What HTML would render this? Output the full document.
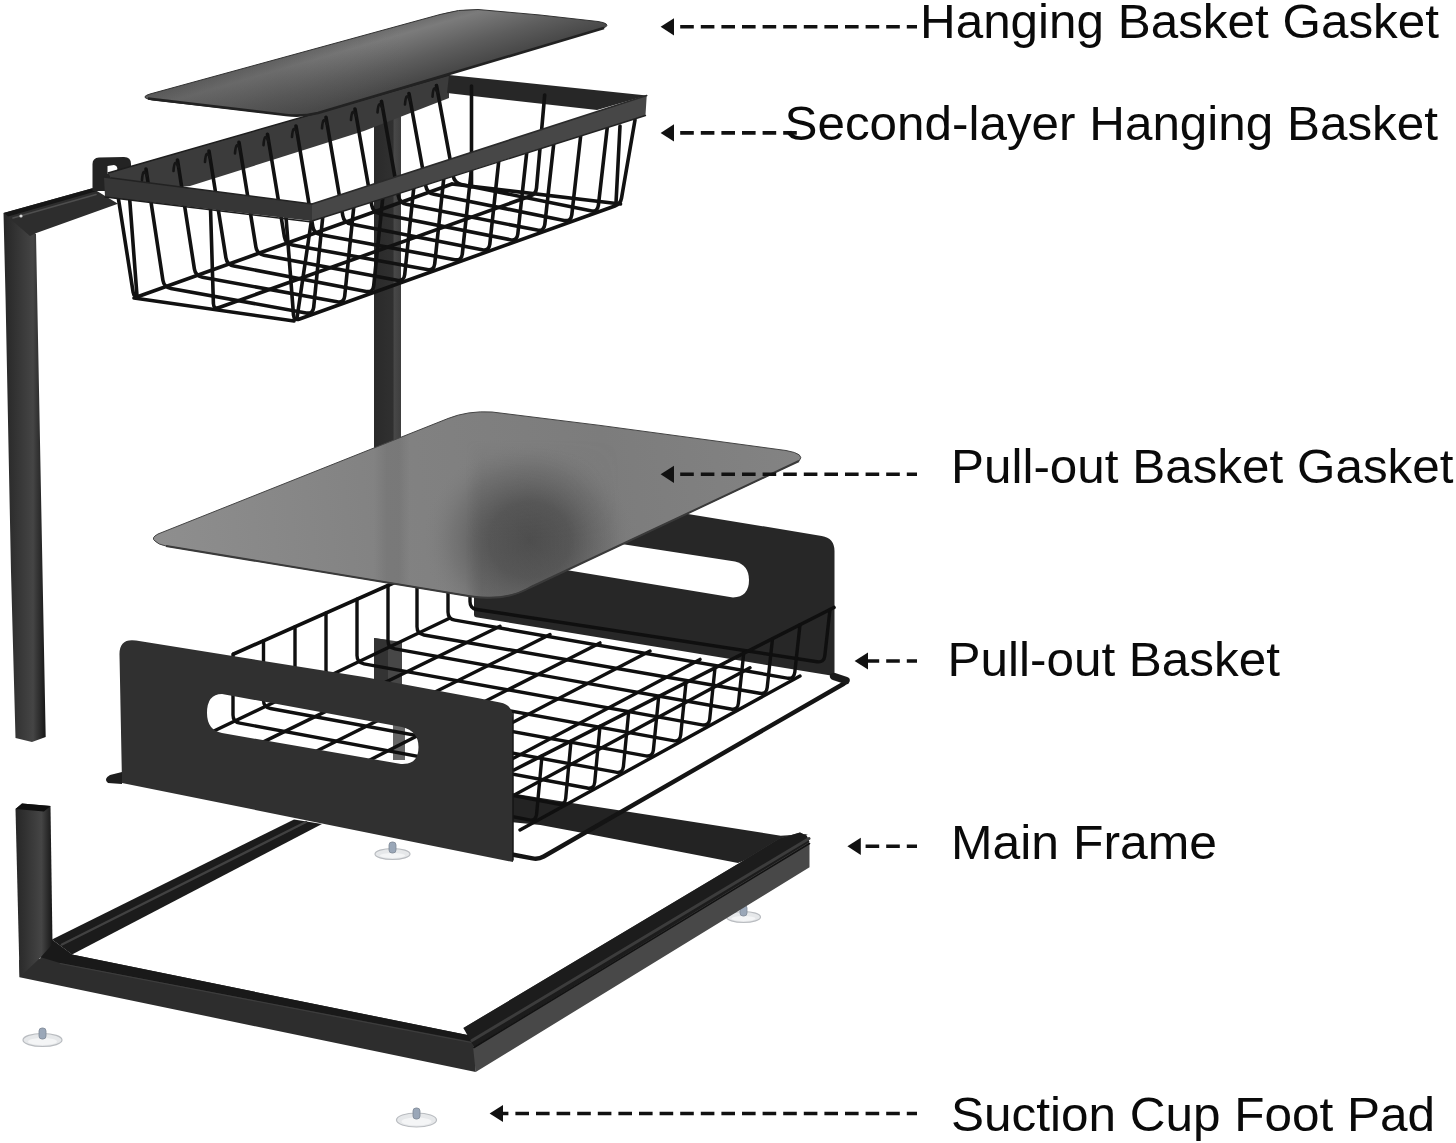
<!DOCTYPE html>
<html lang="en"><head><meta charset="utf-8"><title>Under sink organizer parts</title>
<style>
html,body{margin:0;padding:0;background:#fff;}
body{width:1456px;height:1143px;overflow:hidden;position:relative;font-family:"Liberation Sans",Arial,sans-serif;}
svg{position:absolute;left:0;top:0;display:block;}
.lbl{font-family:"Liberation Sans",Arial,sans-serif;font-size:49px;fill:#0a0a0a;}
</style></head><body>
<svg width="1456" height="1143" viewBox="0 0 1456 1143">
<defs>
<linearGradient id="gTop" gradientUnits="userSpaceOnUse" x1="392" y1="24" x2="414" y2="100">
  <stop offset="0" stop-color="#686868"/><stop offset="0.16" stop-color="#7b7b7b"/><stop offset="0.5" stop-color="#5d5d5d"/><stop offset="0.82" stop-color="#454545"/><stop offset="1" stop-color="#363636"/>
</linearGradient>
<linearGradient id="gTopL" gradientUnits="userSpaceOnUse" x1="145" y1="97" x2="400" y2="30">
  <stop offset="0" stop-color="#444" stop-opacity="0.45"/><stop offset="0.5" stop-color="#484848" stop-opacity="0.3"/><stop offset="1" stop-color="#555" stop-opacity="0"/>
</linearGradient>
<linearGradient id="gLow" gradientUnits="userSpaceOnUse" x1="160" y1="540" x2="800" y2="460">
  <stop offset="0" stop-color="#8e8e8e"/><stop offset="0.35" stop-color="#828282"/><stop offset="0.7" stop-color="#7c7c7c"/><stop offset="1" stop-color="#838383"/>
</linearGradient>
<radialGradient id="gBlot" gradientUnits="userSpaceOnUse" cx="530" cy="540" r="108" gradientTransform="translate(530 540) scale(1 0.92) translate(-530 -540)">
  <stop offset="0" stop-color="#484848" stop-opacity="0.95"/><stop offset="0.38" stop-color="#4e4e4e" stop-opacity="0.8"/><stop offset="0.72" stop-color="#606060" stop-opacity="0.36"/><stop offset="1" stop-color="#808080" stop-opacity="0"/>
</radialGradient>
<linearGradient id="gBand" gradientUnits="userSpaceOnUse" x1="374" y1="0" x2="410" y2="0">
  <stop offset="0" stop-color="#555" stop-opacity="0"/><stop offset="0.35" stop-color="#555" stop-opacity="0.2"/><stop offset="0.7" stop-color="#555" stop-opacity="0.2"/><stop offset="1" stop-color="#555" stop-opacity="0"/>
</linearGradient>
<linearGradient id="gFold" gradientUnits="userSpaceOnUse" x1="466" y1="0" x2="620" y2="0">
  <stop offset="0" stop-color="#555" stop-opacity="0"/><stop offset="0.1" stop-color="#555" stop-opacity="0.4"/><stop offset="0.5" stop-color="#555" stop-opacity="0.3"/><stop offset="1" stop-color="#555" stop-opacity="0"/>
</linearGradient>
<linearGradient id="gFoldM" gradientUnits="userSpaceOnUse" x1="0" y1="440" x2="0" y2="540">
  <stop offset="0" stop-color="#000"/><stop offset="1" stop-color="#fff"/>
</linearGradient>
<mask id="mFold" maskUnits="userSpaceOnUse" x="400" y="400" width="300" height="220"><rect x="400" y="400" width="300" height="220" fill="url(#gFoldM)"/></mask>
<linearGradient id="gPole" x1="0" y1="0" x2="1" y2="0">
  <stop offset="0" stop-color="#262626"/><stop offset="0.45" stop-color="#3a3a3a"/><stop offset="0.7" stop-color="#454545"/><stop offset="0.9" stop-color="#262626"/><stop offset="1" stop-color="#161616"/>
</linearGradient>
<linearGradient id="gPole2" x1="0" y1="0" x2="1" y2="0">
  <stop offset="0" stop-color="#2a2a2a"/><stop offset="0.7" stop-color="#303030"/><stop offset="0.75" stop-color="#484848"/><stop offset="1" stop-color="#3e3e3e"/>
</linearGradient>
<clipPath id="cLow"><path d="M155 541 Q150.5 538 158 534 L448 418.5 Q468 410.5 492 412 L600 425.4 L786 450.5 Q806 454 799 461 L530 587.5 Q505 602 470 596.2 L166 546 Q158 544.5 155 541 Z"/></clipPath>
</defs>
<path d="M374.0 90.0 L401.0 90.0 L401.0 455.0 L374.0 455.0 Z" fill="url(#gPole2)" />
<path d="M3.5 213.0 L36.0 234.0 L42.5 572.0 L45.7 737.0 L32.0 742.0 L15.5 738.0 L11.0 572.0 L5.6 300.0 Z" fill="url(#gPole)" />
<path d="M3.5 213.0 L92.4 188.3 L118.0 203.7 L35.0 233.5 L30.0 236.0 Z" fill="#2d2d2d" />
<path d="M3.5 213.0 L92.4 188.3 L97.0 191.0 L8.0 216.5 Z" fill="#161616" />
<path d="M13.0 218.0 L96.0 194.5" stroke="#4e4e4e" stroke-width="1.60" fill="none" stroke-linecap="round" />
<circle cx="21" cy="216" r="1.6" fill="#d8d8d8"/>
<path d="M92.5 191 L92.5 164 Q92.5 158 99 157.5 L124 157 Q131 157 131 164 L131 172 L106.5 178 L106.5 191 Z M107.5 166 L107.5 174 L117 171 Q118.5 166 114 165 Z" fill="#232323" fill-rule="evenodd"/>
<path d="M108.0 173.0 L449.0 75.0 L449.0 98.0 L364.0 131.0 L190.0 186.0 L120.0 193.0 Z" fill="#3b3b3b" />
<path d="M449.0 75.0 L646.7 95.5 L597.0 110.0 L447.0 93.0 Z" fill="#272727" />
<path d="M108.0 173.0 L449.0 75.0" stroke="#1d1d1d" stroke-width="1.40" fill="none" stroke-linecap="round" />
<g><path d="M146.0 169.1 L162.9 280.3 Q164.0 287.2 170.9 288.5 L306.1 312.9 Q313.0 314.2 313.7 307.2 L323.0 214.5" stroke="#111" stroke-width="3.60" fill="none" stroke-linecap="round" stroke-linejoin="round" /><path d="M177.5 160.0 L194.4 269.0 Q195.5 276.0 202.4 277.2 L337.1 301.8 Q344.0 303.1 344.7 296.1 L354.0 204.7" stroke="#111" stroke-width="3.60" fill="none" stroke-linecap="round" stroke-linejoin="round" /><path d="M209.0 151.0 L225.9 257.7 Q227.0 264.7 233.9 266.0 L366.1 291.4 Q373.0 292.7 373.7 285.7 L383.0 195.5" stroke="#111" stroke-width="3.60" fill="none" stroke-linecap="round" stroke-linejoin="round" /><path d="M239.0 142.4 L255.9 247.0 Q257.0 253.9 263.9 255.2 L397.1 280.3 Q404.0 281.6 404.7 274.6 L414.0 185.7" stroke="#111" stroke-width="3.60" fill="none" stroke-linecap="round" stroke-linejoin="round" /><path d="M267.5 134.2 L284.4 236.8 Q285.5 243.7 292.4 244.9 L427.1 269.6 Q434.0 270.8 434.7 263.9 L444.0 176.2" stroke="#111" stroke-width="3.60" fill="none" stroke-linecap="round" stroke-linejoin="round" /><path d="M296.0 126.0 L312.8 226.6 Q314.0 233.5 320.9 234.8 L454.7 259.7 Q461.6 260.9 462.3 254.0 L471.6 167.5" stroke="#111" stroke-width="3.60" fill="none" stroke-linecap="round" stroke-linejoin="round" /><path d="M326.0 117.3 L342.8 215.8 Q344.0 222.7 350.9 224.1 L482.1 249.8 Q489.0 251.1 489.8 244.2 L499.0 158.8" stroke="#111" stroke-width="3.60" fill="none" stroke-linecap="round" stroke-linejoin="round" /><path d="M355.0 109.0 L371.8 205.4 Q373.0 212.3 379.9 213.7 L510.1 239.7 Q517.0 241.1 517.8 234.1 L527.0 150.0" stroke="#111" stroke-width="3.60" fill="none" stroke-linecap="round" stroke-linejoin="round" /><path d="M381.5 101.4 L398.3 195.9 Q399.5 202.8 406.4 204.2 L537.1 230.1 Q544.0 231.4 544.8 224.5 L554.0 141.4" stroke="#111" stroke-width="3.60" fill="none" stroke-linecap="round" stroke-linejoin="round" /><path d="M409.0 93.5 L425.8 186.1 Q427.0 193.0 433.9 194.3 L564.1 220.4 Q571.0 221.7 571.8 214.8 L581.0 132.9" stroke="#111" stroke-width="3.60" fill="none" stroke-linecap="round" stroke-linejoin="round" /><path d="M436.5 85.6 L453.2 176.2 Q454.5 183.1 461.4 184.5 L590.7 210.8 Q597.6 212.2 598.4 205.3 L607.6 124.5" stroke="#111" stroke-width="3.60" fill="none" stroke-linecap="round" stroke-linejoin="round" /><path d="M118.0 196.0 L133.1 292.1 Q134.0 298.0 139.6 296.0 L452.0 184.0" stroke="#111" stroke-width="3.60" fill="none" stroke-linecap="round" stroke-linejoin="round" /><path d="M471.5 86.0 L471.5 187.0" stroke="#111" stroke-width="3.60" fill="none" stroke-linecap="round" stroke-linejoin="round" /><path d="M210.5 208.0 L213.4 303.5 Q213.6 309.5 219.2 307.5 L530.4 196.0 Q536.0 194.0 536.5 188.0 L544.7 95.0" stroke="#111" stroke-width="3.60" fill="none" stroke-linecap="round" stroke-linejoin="round" /><path d="M286.0 217.0 L293.5 315.0 Q294.0 321.0 299.6 319.0 L614.9 206.0 Q620.5 204.0 621.5 198.1 L635.0 120.0" stroke="#111" stroke-width="3.60" fill="none" stroke-linecap="round" stroke-linejoin="round" /><path d="M129.0 190.0 L137.0 296.0" stroke="#111" stroke-width="3.60" fill="none" stroke-linecap="round" stroke-linejoin="round" /><path d="M311.5 220.0 L297.0 318.0" stroke="#111" stroke-width="3.60" fill="none" stroke-linecap="round" stroke-linejoin="round" /><path d="M620.0 126.0 L616.0 203.0" stroke="#111" stroke-width="3.60" fill="none" stroke-linecap="round" stroke-linejoin="round" /><path d="M134.0 298.0 L294.0 321.0" stroke="#111" stroke-width="3.60" fill="none" stroke-linecap="round" stroke-linejoin="round" /><path d="M452.0 184.0 L620.5 204.0" stroke="#111" stroke-width="3.60" fill="none" stroke-linecap="round" stroke-linejoin="round" /></g>
<path d="M104.0 177.0 L312.0 204.0 L312.0 221.0 L105.0 197.0 Z" fill="#363636" />
<path d="M312.0 204.0 L646.7 95.5 L645.5 115.5 L312.0 221.0 Z" fill="#474747" />
<path d="M104.0 177.0 L312.0 204.0" stroke="#222" stroke-width="1.60" fill="none" stroke-linecap="round" />
<path d="M312.0 204.0 L646.7 95.5" stroke="#2a2a2a" stroke-width="1.60" fill="none" stroke-linecap="round" />
<path d="M105.0 197.0 L312.0 222.0" stroke="#1c1c1c" stroke-width="1.40" fill="none" stroke-linecap="round" />
<path d="M312.0 221.0 L645.5 115.5" stroke="#222" stroke-width="1.40" fill="none" stroke-linecap="round" />
<g><path d="M142.0 180.1 Q143.0 166.1 147.0 176.1" stroke="#151515" stroke-width="2.6" fill="none" stroke-linecap="round"/><path d="M173.5 171.0 Q174.5 157.0 178.5 167.0" stroke="#151515" stroke-width="2.6" fill="none" stroke-linecap="round"/><path d="M205.0 162.0 Q206.0 148.0 210.0 158.0" stroke="#151515" stroke-width="2.6" fill="none" stroke-linecap="round"/><path d="M235.0 153.4 Q236.0 139.4 240.0 149.4" stroke="#151515" stroke-width="2.6" fill="none" stroke-linecap="round"/><path d="M263.5 145.2 Q264.5 131.2 268.5 141.2" stroke="#151515" stroke-width="2.6" fill="none" stroke-linecap="round"/><path d="M292.0 137.0 Q293.0 123.0 297.0 133.0" stroke="#151515" stroke-width="2.6" fill="none" stroke-linecap="round"/><path d="M322.0 128.3 Q323.0 114.3 327.0 124.3" stroke="#151515" stroke-width="2.6" fill="none" stroke-linecap="round"/><path d="M351.0 120.0 Q352.0 106.0 356.0 116.0" stroke="#151515" stroke-width="2.6" fill="none" stroke-linecap="round"/><path d="M377.5 112.4 Q378.5 98.4 382.5 108.4" stroke="#151515" stroke-width="2.6" fill="none" stroke-linecap="round"/><path d="M405.0 104.5 Q406.0 90.5 410.0 100.5" stroke="#151515" stroke-width="2.6" fill="none" stroke-linecap="round"/><path d="M432.5 96.6 Q433.5 82.6 437.5 92.6" stroke="#151515" stroke-width="2.6" fill="none" stroke-linecap="round"/></g>
<path d="M146.5 98.5 Q142 96.5 150 94 L440 14.5 Q458 9 478 9.5 L540 15 L598 21.5 Q611 23.5 605 27.5 L318 113 Q302 117 286 115 L152 100 Z" fill="url(#gTop)"/>
<path d="M146.5 98.5 Q142 96.5 150 94 L440 14.5 Q458 9 478 9.5 L540 15 L598 21.5 Q611 23.5 605 27.5 L318 113 Q302 117 286 115 L152 100 Z" fill="url(#gTopL)" stroke="#333" stroke-width="1"/>
<path d="M148 98.5 L286 115 Q302 117 318 113 L604 28" fill="none" stroke="#222" stroke-width="2.6"/>
<g><ellipse cx="743.5" cy="917.0" rx="17.0" ry="5.5" fill="#e6e8ea" stroke="#b9bcc0" stroke-width="1.2"/><ellipse cx="743.5" cy="918.5" rx="12.0" ry="2.5" fill="#f4f5f6"/><rect x="740.0" y="905.0" width="7" height="11" rx="3" fill="#9aa7b8" stroke="#7d8896" stroke-width="0.8"/></g>
<g><ellipse cx="392.5" cy="854.0" rx="17.5" ry="5.5" fill="#e6e8ea" stroke="#b9bcc0" stroke-width="1.2"/><ellipse cx="392.5" cy="855.5" rx="12.5" ry="2.5" fill="#f4f5f6"/><rect x="389.0" y="842.0" width="7" height="11" rx="3" fill="#9aa7b8" stroke="#7d8896" stroke-width="0.8"/></g>
<g><ellipse cx="42.5" cy="1040.0" rx="19.5" ry="6.5" fill="#e6e8ea" stroke="#b9bcc0" stroke-width="1.2"/><ellipse cx="42.5" cy="1041.5" rx="14.5" ry="3.5" fill="#f4f5f6"/><rect x="39.0" y="1028.0" width="7" height="11" rx="3" fill="#9aa7b8" stroke="#7d8896" stroke-width="0.8"/></g>
<g><ellipse cx="416.5" cy="1120.0" rx="20.0" ry="7.0" fill="#e6e8ea" stroke="#b9bcc0" stroke-width="1.2"/><ellipse cx="416.5" cy="1121.5" rx="15.0" ry="4.0" fill="#f4f5f6"/><rect x="413.0" y="1108.0" width="7" height="11" rx="3" fill="#9aa7b8" stroke="#7d8896" stroke-width="0.8"/></g>
<path d="M510.0 793.0 L573.4 803.2 L626.8 811.5 L780.7 835.7 L808.0 834.0 L738.0 863.0 L585.8 833.4 L540.4 825.0 L510.0 822.0 Z" fill="#232323" />
<path d="M52.0 939.5 L294.0 819.5 L322.0 824.0 L72.0 954.5 Z" fill="#1b1b1b" />
<path d="M62.0 944.5 L306.0 822.0" stroke="#414141" stroke-width="2.40" fill="none" stroke-linecap="round" />
<path d="M40.0 957.0 L52.0 939.5 L72.0 954.6 L470.0 1035.6 L475.7 1042.0 L475.7 1072.0 L19.6 977.3 L19.0 960.0 Z" fill="#2d2d2d" />
<path d="M52.0 940.0 L72.0 954.6 L470.0 1035.6 L474.0 1042.0 L60.0 963.0 L40.0 957.0 Z" fill="#191919" />
<path d="M60.0 963.5 L474.0 1043.0" stroke="#3d3d3d" stroke-width="1.20" fill="none" stroke-linecap="round" />
<circle cx="39" cy="957.5" r="1.5" fill="#cfcfcf"/>
<circle cx="473.5" cy="1041" r="1.3" fill="#bdbdbd"/>
<path d="M463.4 1028.0 L739.5 863.0 L779.5 838.4 L800.0 832.5 L806.8 835.7 L809.5 844.0 L809.5 867.3 L475.7 1072.0 L472.0 1037.0 Z" fill="#484848" />
<path d="M463.4 1028.0 L739.5 863.0 L779.5 838.4 L800.0 832.5 L806.8 835.7 L809.5 842.0 L474.0 1047.0 Z" fill="#1c1c1c" />
<path d="M472.0 1040.5 L809.0 838.5" stroke="#3c3c3c" stroke-width="3.00" fill="none" stroke-linecap="round" />
<path d="M474.0 1047.5 L809.5 843.5" stroke="#121212" stroke-width="1.60" fill="none" stroke-linecap="round" />
<path d="M15.5 809.0 L22.0 803.5 L50.5 806.0 L52.5 944.0 L40.0 958.0 L19.6 977.3 Z" fill="url(#gPole)" />
<path d="M15.5 809.0 L22.0 803.5 L50.5 806.0 L44.0 811.5 Z" fill="#0f0f0f" />
<path d="M474.0 483.0 Q474.0 479.0 477.9 479.6 L821.7 535.9 Q834.5 538.0 834.5 551.0 L834.5 674.0 Q834.5 676.0 832.5 675.7 L476.0 617.3 Q474.0 617.0 474.0 615.0 Z" fill="#272727" />
<path d="M560 534.5 L735 561.5 Q749 565 749 580 Q749 597 733 597.5 L560 569 Z" fill="#fff"/>
<path d="M374.0 638.0 L402.0 642.0 L402.0 690.0 L374.0 690.0 Z" fill="#474747" />
<path d="M374.0 638.0 L388.0 640.0 L388.0 690.0 L374.0 690.0 Z" fill="#333" />
<path d="M393.0 720.0 L405.0 722.0 L405.0 760.0 L393.0 760.0 Z" fill="#666" />
<g><path d="M470.0 549.0 L470.0 601.4 Q470.0 608.4 476.9 609.5 L817.1 661.7 Q824.0 662.8 824.8 655.8 L830.0 609.5" stroke="#0f0f0f" stroke-width="3.40" fill="none" stroke-linecap="round" stroke-linejoin="round" /><path d="M448.0 558.8 L448.0 612.0 Q448.0 619.0 454.9 620.2 L787.1 678.1 Q794.0 679.3 794.8 672.3 L800.0 624.8" stroke="#0f0f0f" stroke-width="3.40" fill="none" stroke-linecap="round" stroke-linejoin="round" /><path d="M417.0 572.5 L417.0 626.8 Q417.0 633.8 423.9 635.0 L759.6 693.2 Q766.5 694.4 767.2 687.5 L772.5 638.7" stroke="#0f0f0f" stroke-width="3.40" fill="none" stroke-linecap="round" stroke-linejoin="round" /><path d="M388.0 585.4 L388.0 640.7 Q388.0 647.7 394.9 648.9 L730.8 709.0 Q737.7 710.3 738.4 703.3 L743.7 653.4" stroke="#0f0f0f" stroke-width="3.40" fill="none" stroke-linecap="round" stroke-linejoin="round" /><path d="M357.0 599.2 L357.0 655.5 Q357.0 662.5 363.9 663.8 L702.1 724.8 Q709.0 726.0 709.7 719.1 L715.0 667.9" stroke="#0f0f0f" stroke-width="3.40" fill="none" stroke-linecap="round" stroke-linejoin="round" /><path d="M326.0 613.0 L326.0 670.3 Q326.0 677.3 332.9 678.6 L673.1 740.7 Q680.0 742.0 680.7 735.0 L686.0 682.7" stroke="#0f0f0f" stroke-width="3.40" fill="none" stroke-linecap="round" stroke-linejoin="round" /><path d="M295.0 626.7 L295.0 685.2 Q295.0 692.2 301.9 693.4 L645.8 755.8 Q652.7 757.0 653.4 750.0 L658.7 696.5" stroke="#0f0f0f" stroke-width="3.40" fill="none" stroke-linecap="round" stroke-linejoin="round" /><path d="M263.5 640.7 L263.5 700.3 Q263.5 707.3 270.4 708.5 L615.8 772.2 Q622.7 773.5 623.4 766.5 L628.7 711.8" stroke="#0f0f0f" stroke-width="3.40" fill="none" stroke-linecap="round" stroke-linejoin="round" /><path d="M233.0 654.3 L233.0 714.9 Q233.0 721.9 239.9 723.1 L587.1 788.0 Q594.0 789.3 594.7 782.3 L600.0 726.3" stroke="#0f0f0f" stroke-width="3.40" fill="none" stroke-linecap="round" stroke-linejoin="round" /><path d="M202.0 668.0 L202.0 729.7 Q202.0 736.7 208.9 738.0 L558.1 804.0 Q565.0 805.2 565.7 798.3 L571.0 741.1" stroke="#0f0f0f" stroke-width="3.40" fill="none" stroke-linecap="round" stroke-linejoin="round" /><path d="M172.0 681.4 L172.0 744.0 Q172.0 751.0 178.9 752.4 L529.1 819.9 Q536.0 821.2 536.6 814.2 L542.0 755.8" stroke="#0f0f0f" stroke-width="3.40" fill="none" stroke-linecap="round" stroke-linejoin="round" /><path d="M170.0 752.0 L450.0 618.0" stroke="#0f0f0f" stroke-width="3.40" fill="none" stroke-linecap="round" /><path d="M220.0 763.1 L500.0 626.3" stroke="#0f0f0f" stroke-width="3.40" fill="none" stroke-linecap="round" /><path d="M270.0 774.3 L550.0 634.6" stroke="#0f0f0f" stroke-width="3.40" fill="none" stroke-linecap="round" /><path d="M320.0 785.4 L600.0 642.9" stroke="#0f0f0f" stroke-width="3.40" fill="none" stroke-linecap="round" /><path d="M370.0 796.6 L650.0 651.1" stroke="#0f0f0f" stroke-width="3.40" fill="none" stroke-linecap="round" /><path d="M420.0 807.7 L700.0 659.4" stroke="#0f0f0f" stroke-width="3.40" fill="none" stroke-linecap="round" /><path d="M470.0 818.9 L750.0 667.7" stroke="#0f0f0f" stroke-width="3.40" fill="none" stroke-linecap="round" /><path d="M520.0 830.0 L800.0 676.0" stroke="#0f0f0f" stroke-width="3.40" fill="none" stroke-linecap="round" /><path d="M233.6 654.0 L470.0 549.0" stroke="#0f0f0f" stroke-width="3.60" fill="none" stroke-linecap="round" /><path d="M514.0 770.0 L834.0 607.5" stroke="#0f0f0f" stroke-width="3.60" fill="none" stroke-linecap="round" /></g>
<path d="M832.0 676.0 L842.8 679.3 Q848.5 681.0 843.3 684.0 L543.7 856.5 Q538.5 859.5 532.6 858.4 L512.0 854.5" stroke="#141414" stroke-width="4.40" fill="none" stroke-linecap="round" stroke-linejoin="round" />
<path d="M834.0 676.5 L846.0 680.5" stroke="#1a1a1a" stroke-width="7.50" fill="none" stroke-linecap="round" />
<path d="M119.5 655 Q119 638 136 640.5 L364 677 L480 698.5 L500 702.5 Q513 705 513 718 L513 862 L122 783 Z M222 694 L402 727 Q418.5 731 418.5 747 Q418.5 765 401 764 L222 733 Q207 730 207 713 Q207 694 222 694 Z" fill="#303030" fill-rule="evenodd"/>
<path d="M108 783 Q103 779 110 775 L122 772 L122 784 Z" fill="#1d1d1d"/>
<path d="M513.0 712.0 L513.0 860.0" stroke="#151515" stroke-width="1.50" fill="none" stroke-linecap="round" />
<path d="M155 541 Q150.5 538 158 534 L448 418.5 Q468 410.5 492 412 L600 425.4 L786 450.5 Q806 454 799 461 L530 587.5 Q505 602 470 596.2 L166 546 Q158 544.5 155 541 Z" fill="url(#gLow)"/>
<rect x="140" y="400" width="680" height="210" fill="url(#gBlot)" clip-path="url(#cLow)"/>
<g clip-path="url(#cLow)"><rect x="460" y="400" width="170" height="210" fill="url(#gFold)" mask="url(#mFold)"/></g>
<rect x="374" y="400" width="36" height="210" fill="url(#gBand)" clip-path="url(#cLow)"/>
<path d="M155 541 Q150.5 538 158 534 L448 418.5 Q468 410.5 492 412 L600 425.4 L786 450.5 Q806 454 799 461 L530 587.5 Q505 602 470 596.2 L166 546 Q158 544.5 155 541 Z" fill="none" stroke="#444" stroke-width="1"/>
<path d="M166 546 L470 596.2 Q505 602 530 587.5 L799 461" fill="none" stroke="#3a3a3a" stroke-width="2"/>
<path d="M660.6 26.8 L674.0 18.2 L674.0 35.4 Z" fill="#111"/><path d="M673.5 26.8 L917.0 26.8" stroke="#111" stroke-width="3.6" stroke-dasharray="13.6 7" stroke-dashoffset="13.90" fill="none"/>
<path d="M660.6 132.9 L674.0 124.3 L674.0 141.5 Z" fill="#111"/><path d="M673.5 132.9 L797.0 132.9" stroke="#111" stroke-width="3.6" stroke-dasharray="13.6 7" stroke-dashoffset="13.90" fill="none"/>
<path d="M660.6 474.3 L674.0 465.7 L674.0 482.9 Z" fill="#111"/><path d="M673.5 474.3 L917.0 474.3" stroke="#111" stroke-width="3.6" stroke-dasharray="13.6 7" stroke-dashoffset="13.90" fill="none"/>
<path d="M854.6 661.0 L868.0 652.4 L868.0 669.6 Z" fill="#111"/><path d="M867.5 661.0 L917.0 661.0" stroke="#111" stroke-width="3.6" stroke-dasharray="13.6 7" stroke-dashoffset="1.90" fill="none"/>
<path d="M847.4 846.3 L860.8 837.7 L860.8 854.9 Z" fill="#111"/><path d="M860.3 846.3 L917.0 846.3" stroke="#111" stroke-width="3.6" stroke-dasharray="13.6 7" stroke-dashoffset="15.30" fill="none"/>
<path d="M489.6 1113.5 L503.0 1104.9 L503.0 1122.1 Z" fill="#111"/><path d="M502.5 1113.5 L917.0 1113.5" stroke="#111" stroke-width="3.6" stroke-dasharray="13.6 7" stroke-dashoffset="7.70" fill="none"/>
<text class="lbl" x="920.0" y="37.6" textLength="519.0" lengthAdjust="spacingAndGlyphs">Hanging Basket Gasket</text>
<text class="lbl" x="784.5" y="139.7" textLength="653.5" lengthAdjust="spacingAndGlyphs">Second-layer Hanging Basket</text>
<text class="lbl" x="951.0" y="483.0" textLength="502.5" lengthAdjust="spacingAndGlyphs">Pull-out Basket Gasket</text>
<text class="lbl" x="947.5" y="676.0" textLength="332.5" lengthAdjust="spacingAndGlyphs">Pull-out Basket</text>
<text class="lbl" x="951.0" y="859.0" textLength="266.0" lengthAdjust="spacingAndGlyphs">Main Frame</text>
<text class="lbl" x="951.0" y="1130.5" textLength="484.0" lengthAdjust="spacingAndGlyphs">Suction Cup Foot Pad</text>
</svg>
</body></html>
